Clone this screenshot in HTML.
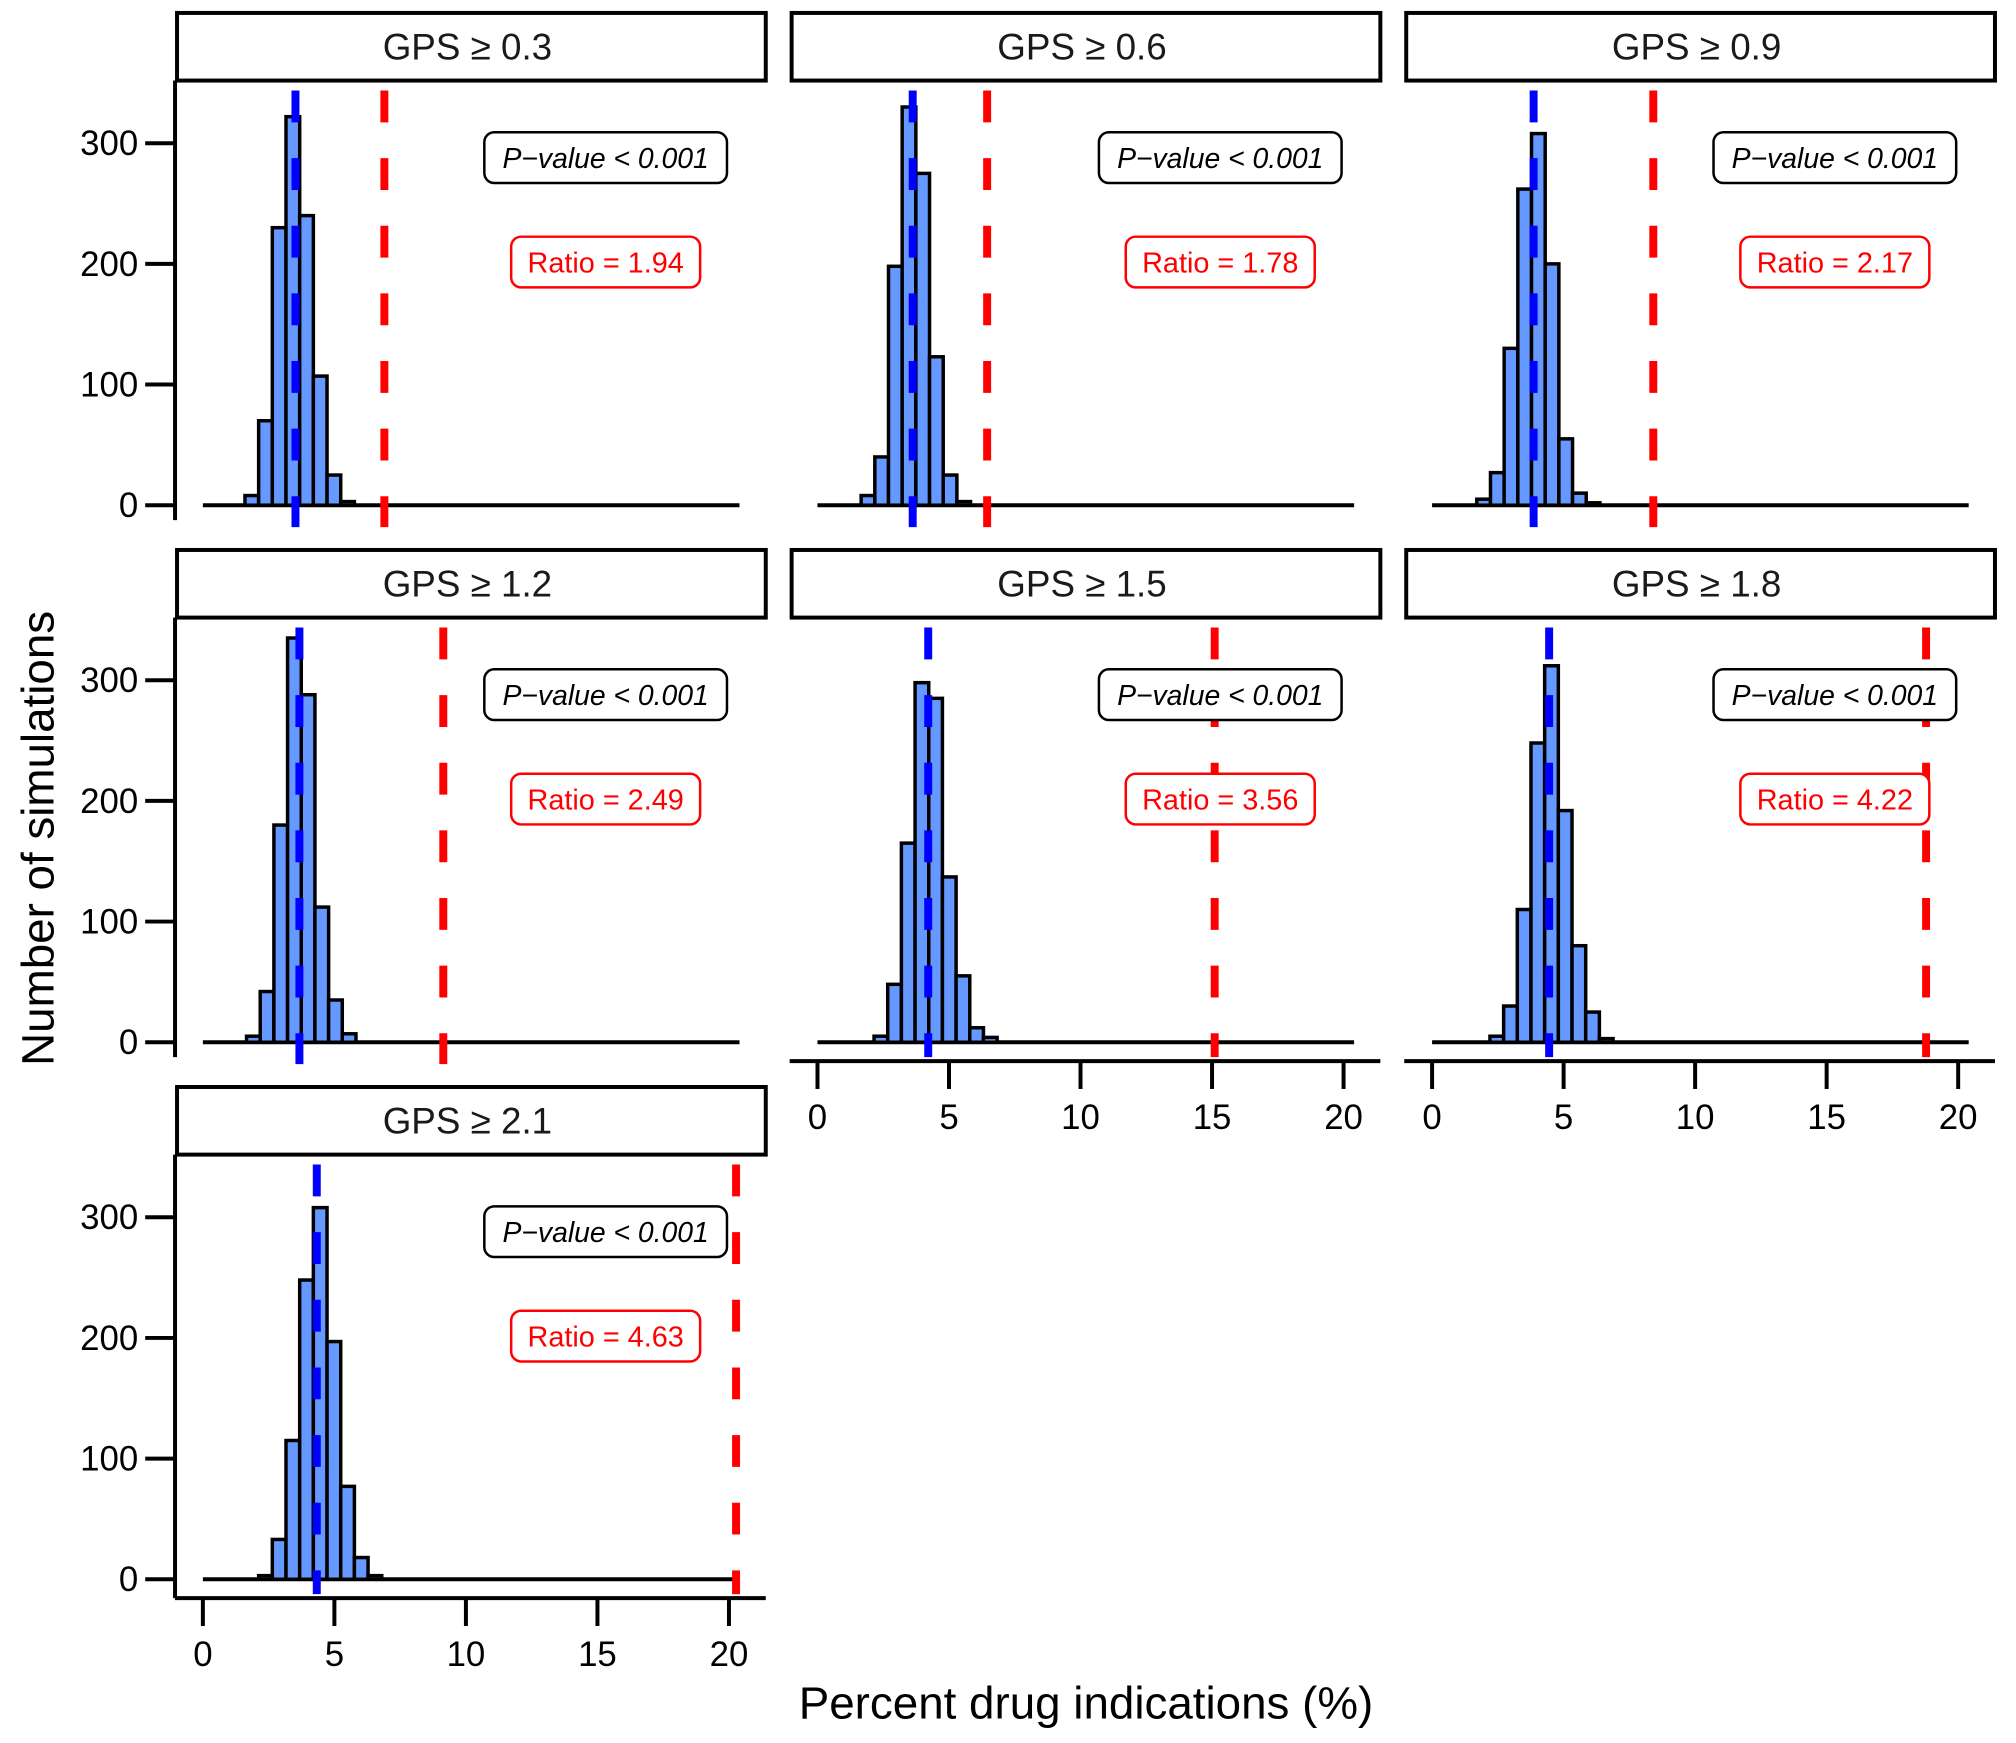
<!DOCTYPE html>
<html><head><meta charset="utf-8"><style>
html,body{margin:0;padding:0;background:#fff}
svg{display:block}
text{font-family:"Liberation Sans",Arial,sans-serif}
</style></head><body>
<svg id="chart" width="2016" height="1743" viewBox="0 0 2016 1743" xmlns="http://www.w3.org/2000/svg">
<g id="root" transform="scale(0.9945)">
<text x="1092" y="1728" font-size="46" text-anchor="middle" fill="#000">Percent drug indications (%)</text>
<text transform="translate(54,843) rotate(-90)" font-size="46" text-anchor="middle" fill="#000">Number of simulations</text>
</g>
</svg>
<script>
const panelLabels = ["GPS ≥ 0.3","GPS ≥ 0.6","GPS ≥ 0.9","GPS ≥ 1.2","GPS ≥ 1.5","GPS ≥ 1.8","GPS ≥ 2.1"];
const ratioLabels = ["1.94","1.78","2.17","2.49","3.56","4.22","4.63"];
const binStarts = [1.6,1.66,1.7,1.66,2.15,2.2,2.12];
const binWidth = 0.52;
const counts1 = [8,70,230,322,240,107,25,3];
const counts2 = [8,40,198,330,275,123,25,3];
const counts3 = [5,27,130,262,308,200,55,10,2];
const counts4 = [5,42,180,335,288,112,35,7];
const counts5 = [5,48,165,298,285,137,55,12,4];
const counts6 = [5,30,110,248,312,192,80,25,3];
const counts7 = [3,33,115,248,308,197,77,18,3];
const allCounts = [counts1,counts2,counts3,counts4,counts5,counts6,counts7];
const blueLines = [3.52,3.62,3.86,3.67,4.21,4.45,4.33];
const redLines = [6.9,6.45,8.41,9.14,15.1,18.78,20.27];
const xTicks = [0,5,10,15,20];
const yTicks = [0,100,200,300];

const root = document.getElementById('root');
const NS = 'http://www.w3.org/2000/svg';
function mk(tag, attrs, parent){const e=document.createElementNS(NS,tag);for(const k in attrs)e.setAttribute(k,attrs[k]);(parent||root).appendChild(e);return e;}

for(let p=0;p<7;p++){
  const col=p%3,row=Math.floor(p/3);
  const ox=col*618, oy=row*540;
  const sx=v=>204+ox+v*26.45;
  const sy=v=>508+oy-v*1.2133;
  const hasX=(row===2||p>=4);
  const g=mk('g',{});
  
  
  const strip=mk('rect',{x:178+ox,y:13+oy,width:592,height:68,fill:'#fff',stroke:'#000','stroke-width':4},g);
  
  
  const st=mk('text',{x:470+ox,y:60+oy,'font-size':37,'text-anchor':'middle',fill:'#1a1a1a'},g);
  st.textContent=panelLabels[p];
  
  
  const bl=mk('line',{x1:sx(0),x2:sx(20.4),y1:sy(0),y2:sy(0),stroke:'#000','stroke-width':4},g);
  
  
  const c=allCounts[p];
  for(let i=0;i<c.length;i++){
    const x0=sx(binStarts[p]+i*binWidth), x1=sx(binStarts[p]+(i+1)*binWidth);
    const r=mk('rect',{x:x0,y:sy(c[i]),width:x1-x0,height:sy(0)-sy(c[i]),fill:'#6699ff',stroke:'#000','stroke-width':3.5},g);
    
    
  }
  const top=81+oy;
  const lineBot=hasX?1067+(row===2?540:0)-4:530+oy;
  const blue=mk('line',{x1:sx(blueLines[p]),x2:sx(blueLines[p]),y1:top+4,y2:lineBot,stroke:'#0000ff','stroke-width':8,'stroke-dasharray':'32 36','stroke-dashoffset':'-6'},g);
  
  
  const red=mk('line',{x1:sx(redLines[p]),x2:sx(redLines[p]),y1:top+4,y2:lineBot,stroke:'#ff0000','stroke-width':8,'stroke-dasharray':'32 36','stroke-dashoffset':'-6'},g);
  
  
  const pb=mk('rect',{x:487+ox,y:133+oy,width:244,height:51,rx:10,fill:'#fff',stroke:'#000','stroke-width':2.5},g);
  
  
  const pt=mk('text',{x:609+ox,y:169+oy,'font-size':28.5,'font-style':'italic','text-anchor':'middle',fill:'#000'},g);
  pt.textContent='P\u2212value < 0.001';
  
  
  const rb=mk('rect',{x:514+ox,y:238+oy,width:190,height:51,rx:10,fill:'#fff',stroke:'#ff0000','stroke-width':2.5},g);
  
  
  const rt=mk('text',{x:609+ox,y:274+oy,'font-size':29,'text-anchor':'middle',fill:'#ff0000'},g);
  rt.textContent='Ratio = '+ratioLabels[p];
  
  
  if(col===0){
    const ya=mk('line',{x1:176,x2:176,y1:81+oy,y2:(row===2?1607:523+oy),stroke:'#000','stroke-width':4},g);
    
    
    yTicks.forEach(t=>{
      const tl=mk('line',{x1:146,x2:176,y1:sy(t),y2:sy(t),stroke:'#000','stroke-width':4},g);
      
      
      const tt=mk('text',{x:139,y:sy(t)+12,'font-size':35,'text-anchor':'end',fill:'#000'},g);
      tt.textContent=t;
      
      
    });
  }
  if(hasX){
    const ay=(row===2)?1607:1067;
    const xa=mk('line',{x1:176+ox,x2:770+ox,y1:ay,y2:ay,stroke:'#000','stroke-width':4},g);
    
    
    xTicks.forEach(t=>{
      const tl=mk('line',{x1:sx(t),x2:sx(t),y1:ay,y2:ay+28,stroke:'#000','stroke-width':4},g);
      
      
      const tt=mk('text',{x:sx(t),y:ay+68,'font-size':35,'text-anchor':'middle',fill:'#000'},g);
      tt.textContent=t;
      
      
    });
  }
}
</script>
</body></html>
